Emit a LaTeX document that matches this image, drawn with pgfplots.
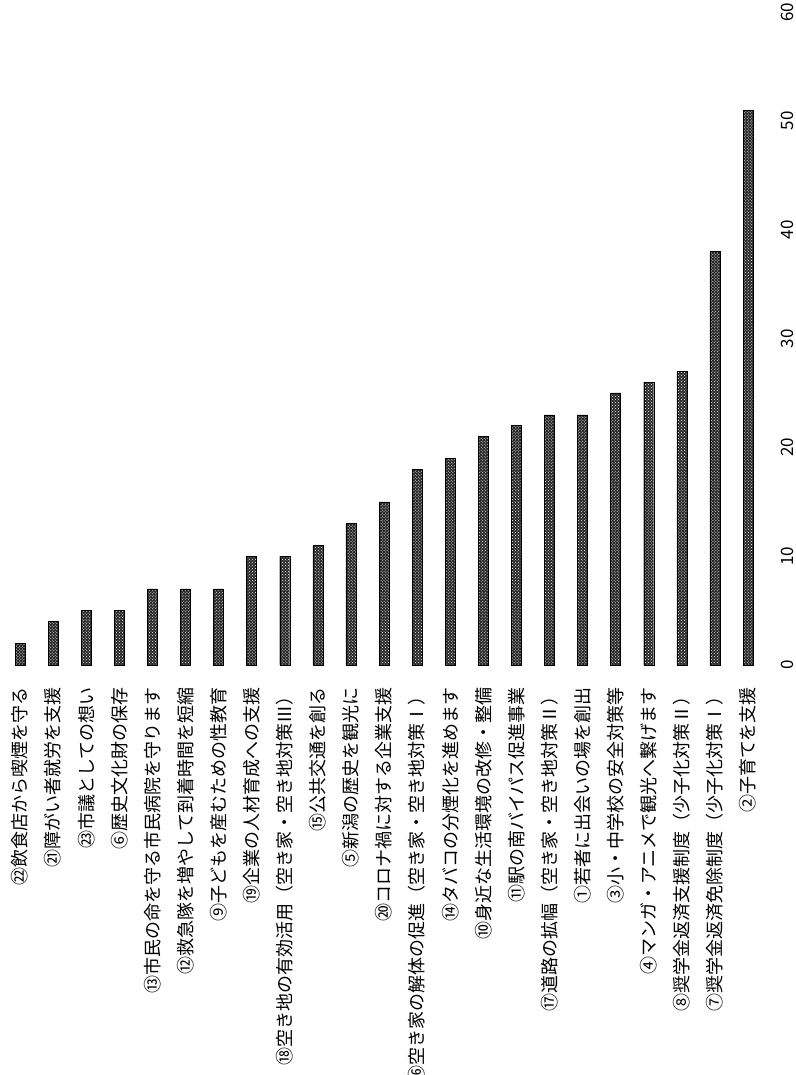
\documentclass[border=0pt]{standalone}
\usepackage{fontspec}
\setmainfont{Noto Sans CJK JP}
\usepackage{pgfplots}
\pgfplotsset{compat=1.18}
\usetikzlibrary{patterns}
\begin{document}
\begin{tikzpicture}[x=1bp,y=1bp]
\path[use as bounding box] (0,0) rectangle (796,1075);
\begin{axis}[
  at={(20bp,410bp)}, anchor=south west,
  scale only axis, width=728bp, height=652.8bp,
  xmin=1, xmax=23, ymin=0, ymax=60,
  clip=false,
  axis line style={draw=none},
  major tick length=0pt,
  ybar, bar width=10bp,
  xtick={1,...,23},
  xticklabels={
    {㉒飲食店から喫煙を守る},
    {㉑障がい者就労を支援},
    {㉓市議としての想い},
    {⑥歴史文化財の保存},
    {⑬市民の命を守る市民病院を守ります},
    {⑫救急隊を増やして到着時間を短縮},
    {⑨子どもを産むための性教育},
    {⑲企業の人材育成への支援},
    {⑱空き地の有効活用（空き家・空き地対策Ⅲ）},
    {⑮公共交通を創る},
    {⑤新潟の歴史を観光に},
    {⑳コロナ禍に対する企業支援},
    {⑯空き家の解体の促進（空き家・空き地対策Ⅰ）},
    {⑭タバコの分煙化を進めます},
    {⑩身近な生活環境の改修・整備},
    {⑪駅の南バイパス促進事業},
    {⑰道路の拡幅（空き家・空き地対策Ⅱ）},
    {①若者に出会いの場を創出},
    {③小・中学校の安全対策等},
    {④マンガ・アニメで観光へ繋げます},
    {⑧奨学金返済支援制度（少子化対策Ⅱ）},
    {⑦奨学金返済免除制度（少子化対策Ⅰ）},
    {②子育てを支援}},
  xticklabel style={rotate=90, anchor=east, inner sep=0pt, font=\fontsize{18bp}{20bp}\selectfont},
  xticklabel shift=22bp,
  ytick={0,10,...,60},
  yticklabel pos=right,
  yticklabel style={rotate=90, anchor=north, inner sep=0pt, font=\fontsize{17bp}{19bp}\selectfont},
  yticklabel shift=33bp,
  /pgf/number format/assume math mode=true,
]
\addplot[draw=black, fill=black!85, postaction={pattern=crosshatch dots, pattern color=white}] coordinates {
  (1,2) (2,4) (3,5) (4,5) (5,7) (6,7) (7,7) (8,10) (9,10) (10,11) (11,13) (12,15)
  (13,18) (14,19) (15,21) (16,22) (17,23) (18,23) (19,25) (20,26) (21,27) (22,38) (23,51)
};
\end{axis}
\end{tikzpicture}
\end{document}
